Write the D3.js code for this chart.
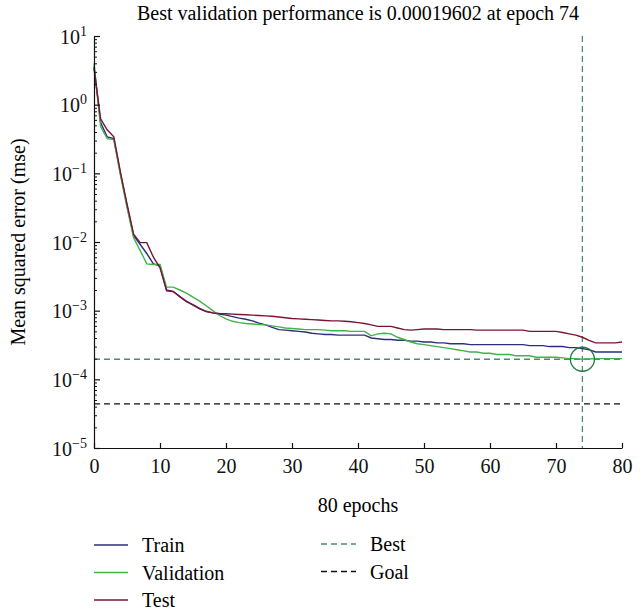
<!DOCTYPE html>
<html>
<head>
<meta charset="utf-8">
<script src="https://cdn.jsdelivr.net/npm/d3@7"></script>
<style>
  body { margin: 0; background: #fff; }
  svg, svg text { font-family: "Liberation Serif", "DejaVu Serif", serif; }
</style>
</head>
<body>
<svg width="644" height="612"></svg>
<script>
// performance per epoch (mse)
var epochs = d3.range(0, 81);
var train = [3.6, 0.55, 0.34, 0.32, 0.1, 0.034, 0.0125, 0.0092, 0.0068, 0.0048,
  0.0045, 0.002, 0.0019, 0.0016, 0.00135, 0.00122, 0.00108, 0.00098, 0.00093, 0.00089,
  0.00086, 0.00082, 0.00078, 0.00075, 0.00071, 0.00066, 0.00062, 0.00057, 0.00053, 0.00052,
  0.00051, 0.0005, 0.00049, 0.00047, 0.00046, 0.00045, 0.00045, 0.00044, 0.00044, 0.00044,
  0.00044, 0.00044, 0.0004, 0.00039, 0.00038, 0.00038, 0.00037, 0.00037, 0.00036, 0.00036,
  0.00035, 0.00035, 0.00034, 0.00034, 0.00033, 0.00033, 0.00033, 0.00032, 0.00032, 0.00032,
  0.00032, 0.00032, 0.00032, 0.00032, 0.00032, 0.00032, 0.00031, 0.00031, 0.00031, 0.0003,
  0.0003, 0.0003, 0.00029, 0.00029, 0.00028, 0.00027, 0.00025, 0.00025, 0.00025, 0.00025,
  0.00025];
var validation = [4.0, 0.48, 0.32, 0.31, 0.095, 0.032, 0.0115, 0.0075, 0.0048, 0.0047,
  0.0047, 0.0022, 0.0022, 0.002, 0.0018, 0.00158, 0.00138, 0.00118, 0.001, 0.00085,
  0.00076, 0.0007, 0.00067, 0.00065, 0.00064, 0.00063, 0.00062, 0.0006, 0.00058, 0.00056,
  0.00055, 0.00054, 0.00053, 0.00053, 0.00053, 0.00052, 0.00051, 0.00051, 0.00051, 0.0005,
  0.0005, 0.0005, 0.00043, 0.00046, 0.00047, 0.00046, 0.00041, 0.00038, 0.00035, 0.00033,
  0.00032, 0.00031, 0.0003, 0.00029, 0.00028, 0.00027, 0.00026, 0.00025, 0.00025, 0.00024,
  0.00024, 0.00023, 0.00023, 0.00023, 0.00022, 0.00022, 0.00022, 0.00021, 0.00021, 0.00021,
  0.00021, 0.000205, 0.0002, 0.0002, 0.00019602, 0.000198, 0.0002, 0.0002, 0.0002, 0.0002,
  0.0002];
var test = [3.4, 0.62, 0.43, 0.34, 0.105, 0.036, 0.013, 0.0098, 0.0098, 0.006,
  0.0042, 0.00195, 0.0019, 0.0016, 0.00138, 0.0012, 0.00106, 0.00097, 0.00093, 0.00091,
  0.0009, 0.00089, 0.00088, 0.00087, 0.00086, 0.00085, 0.00084, 0.00083, 0.00081, 0.00079,
  0.00077, 0.00076, 0.00075, 0.00074, 0.00073, 0.00072, 0.00071, 0.00071, 0.0007, 0.00069,
  0.00067, 0.00065, 0.00062, 0.00059, 0.00059, 0.00059, 0.00056, 0.00053, 0.00052, 0.00053,
  0.00054, 0.00054, 0.00054, 0.00053, 0.00053, 0.00053, 0.00053, 0.00053, 0.00052, 0.00052,
  0.00052, 0.00052, 0.00052, 0.00052, 0.00052, 0.00052, 0.0005, 0.0005, 0.0005, 0.0005,
  0.0005, 0.00048, 0.00046, 0.00044, 0.00041, 0.00037, 0.00034, 0.00034, 0.00034, 0.00034,
  0.00035];

var bestEpoch = 74, bestValue = 0.00019602, goalValue = 0.000044;
var xTicks = [0, 10, 20, 30, 40, 50, 60, 70, 80];
var yExponents = [-5, -4, -3, -2, -1, 0, 1];

var seriesNames = ["Train", "Validation", "Test"];
var seriesColors = ["#2d2f7c", "#3fb34a", "#7c1535"];
var bestColor = "#4d8a69";

var svg = d3.select("svg");
var plotLeft = 94, plotRight = 622, plotTop = 36, plotBottom = 448;
var fs = 20, serif = "Liberation Serif, DejaVu Serif, serif";

var x = d3.scaleLinear().domain([0, 80]).range([plotLeft, plotRight]);
var y = d3.scaleLog().domain([1e-5, 10]).range([plotBottom, plotTop]);

// title
svg.append("text")
  .attr("x", 358).attr("y", 20)
  .attr("text-anchor", "middle")
  .attr("font-size", fs)
  .text("Best validation performance is 0.00019602 at epoch 74");

// goal and best reference lines
svg.append("line")
  .attr("x1", x(0)).attr("x2", x(80))
  .attr("y1", y(goalValue)).attr("y2", y(goalValue))
  .attr("stroke", "#111").attr("stroke-width", 1.3)
  .attr("stroke-dasharray", "6,4");
svg.append("line")
  .attr("x1", x(0)).attr("x2", x(80))
  .attr("y1", y(bestValue)).attr("y2", y(bestValue))
  .attr("stroke", bestColor).attr("stroke-width", 1.3)
  .attr("stroke-dasharray", "6,4");
svg.append("line")
  .attr("x1", x(bestEpoch)).attr("x2", x(bestEpoch))
  .attr("y1", y(10)).attr("y2", y(1e-5))
  .attr("stroke", bestColor).attr("stroke-width", 1.3)
  .attr("stroke-dasharray", "6,4");

// curves
var line = d3.line()
  .x(function(d, i) { return x(epochs[i]); })
  .y(function(d) { return y(d); });

[train, validation, test].forEach(function(s, k) {
  svg.append("path")
    .datum(s)
    .attr("d", line)
    .attr("fill", "none")
    .attr("stroke", seriesColors[k])
    .attr("stroke-width", 1.4);
});

svg.append("circle")
  .attr("cx", x(bestEpoch)).attr("cy", y(bestValue))
  .attr("r", 12)
  .attr("fill", "none")
  .attr("stroke", "#1e7c3c")
  .attr("stroke-width", 1.3);

// x axis
var xAxis = svg.append("g")
  .attr("transform", "translate(0," + plotBottom + ")")
  .call(d3.axisBottom(x).tickValues(xTicks).tickSize(-5).tickPadding(11).tickSizeOuter(0))
  .attr("font-family", serif);
xAxis.selectAll("text").attr("font-size", fs).attr("fill", "#111");
xAxis.selectAll("line, path").attr("stroke", "#111").attr("stroke-width", 1.2);

// y axis: decades and minor ticks
var decades = yExponents.map(function(e) { return Math.pow(10, e); });
var minors = [];
decades.slice(0, -1).forEach(function(d) {
  d3.range(2, 10).forEach(function(m) { minors.push(d * m); });
});

var yMinor = svg.append("g")
  .attr("transform", "translate(" + plotLeft + ",0)")
  .call(d3.axisLeft(y).tickValues(minors).tickSize(-3).tickFormat("").tickSizeOuter(0));
yMinor.select("path").remove();
yMinor.selectAll("line").attr("stroke", "#111");

var yAxis = svg.append("g")
  .attr("transform", "translate(" + plotLeft + ",0)")
  .call(d3.axisLeft(y).tickValues(decades).tickSize(-6).tickFormat("").tickSizeOuter(0))
  .attr("font-family", serif);
yAxis.selectAll("line, path").attr("stroke", "#111").attr("stroke-width", 1.2);

yAxis.selectAll(".tick").each(function(d, i) {
  var t = d3.select(this).append("text")
    .attr("x", -7).attr("dy", "0.35em")
    .attr("text-anchor", "end")
    .attr("font-size", fs)
    .attr("fill", "#111");
  t.append("tspan").text("10");
  t.append("tspan")
    .attr("dy", "-0.55em")
    .attr("font-size", 14)
    .text(yExponents[i] < 0 ? "\u2212" + (-yExponents[i]) : String(yExponents[i]));
});

// axis titles
svg.append("text")
  .attr("x", 358).attr("y", 512)
  .attr("text-anchor", "middle")
  .attr("font-size", fs)
  .text("80 epochs");

svg.append("text")
  .attr("transform", "translate(25," + ((plotTop + plotBottom) / 2) + ") rotate(-90)")
  .attr("text-anchor", "middle")
  .attr("font-size", fs)
  .text("Mean squared error (mse)");

// legend
var legend = svg.append("g");
seriesNames.forEach(function(n, k) {
  var yy = 545 + k * 27.5;
  legend.append("line")
    .attr("x1", 94).attr("x2", 128).attr("y1", yy).attr("y2", yy)
    .attr("stroke", seriesColors[k]).attr("stroke-width", 1.4);
  legend.append("text")
    .attr("x", 142).attr("y", yy).attr("dy", "0.35em")
    .attr("font-size", fs)
    .text(n);
});
var refNames = ["Best", "Goal"], refColors = [bestColor, "#111"];
refNames.forEach(function(n, k) {
  var yy = 544 + k * 27.5;
  legend.append("line")
    .attr("x1", 321).attr("x2", 356).attr("y1", yy).attr("y2", yy)
    .attr("stroke", refColors[k]).attr("stroke-width", 1.3)
    .attr("stroke-dasharray", "6,4");
  legend.append("text")
    .attr("x", 370).attr("y", yy).attr("dy", "0.35em")
    .attr("font-size", fs)
    .text(n);
});
</script>
</body>
</html>
